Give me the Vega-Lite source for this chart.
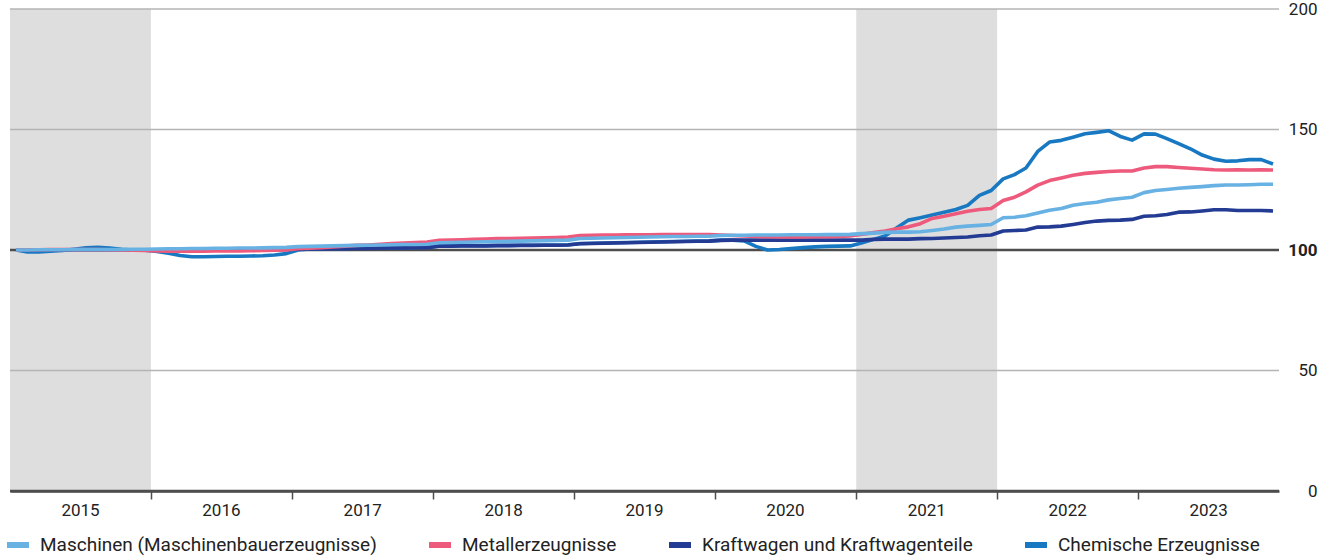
{
"$schema":"https://vega.github.io/schema/vega-lite/v6.json",
"width":1269,"height":482,
"autosize":{"type":"none"},
"padding":{"left":10,"top":9,"right":52,"bottom":69},
"background":"#ffffff",
"config":{"view":{"stroke":null},"font":"Roboto"},
"datasets":{
"bands":[{"start":"2015-01-01","end":"2016-01-01"},{"start":"2021-01-01","end":"2022-01-01"}],
"grid":[{"g":0},{"g":50},{"g":100},{"g":150},{"g":200}],
"series":[
{"d":"2015-01","mas":100.0,"met":100.0,"kfz":100.0,"che":100.0},
{"d":"2015-02","mas":100.0,"met":100.1,"kfz":100.0,"che":99.2},
{"d":"2015-03","mas":100.1,"met":100.1,"kfz":100.0,"che":99.2},
{"d":"2015-04","mas":100.1,"met":100.2,"kfz":100.1,"che":99.5},
{"d":"2015-05","mas":100.1,"met":100.2,"kfz":100.1,"che":99.8},
{"d":"2015-06","mas":100.2,"met":100.2,"kfz":100.1,"che":100.3},
{"d":"2015-07","mas":100.2,"met":100.2,"kfz":100.1,"che":100.9},
{"d":"2015-08","mas":100.2,"met":100.2,"kfz":100.1,"che":101.1},
{"d":"2015-09","mas":100.2,"met":100.1,"kfz":100.1,"che":100.8},
{"d":"2015-10","mas":100.2,"met":100.0,"kfz":100.1,"che":100.3},
{"d":"2015-11","mas":100.3,"met":99.9,"kfz":100.1,"che":100.0},
{"d":"2015-12","mas":100.3,"met":99.8,"kfz":100.1,"che":99.9},
{"d":"2016-01","mas":100.4,"met":99.6,"kfz":100.1,"che":99.4},
{"d":"2016-02","mas":100.5,"met":99.5,"kfz":100.1,"che":98.7},
{"d":"2016-03","mas":100.5,"met":99.5,"kfz":100.1,"che":97.7},
{"d":"2016-04","mas":100.6,"met":99.5,"kfz":100.1,"che":97.2},
{"d":"2016-05","mas":100.6,"met":99.5,"kfz":100.1,"che":97.2},
{"d":"2016-06","mas":100.7,"met":99.6,"kfz":100.1,"che":97.3},
{"d":"2016-07","mas":100.7,"met":99.6,"kfz":100.2,"che":97.4},
{"d":"2016-08","mas":100.8,"met":99.6,"kfz":100.2,"che":97.4},
{"d":"2016-09","mas":100.8,"met":99.7,"kfz":100.2,"che":97.5},
{"d":"2016-10","mas":100.9,"met":99.8,"kfz":100.2,"che":97.6},
{"d":"2016-11","mas":101.0,"met":99.9,"kfz":100.2,"che":97.9},
{"d":"2016-12","mas":101.1,"met":100.0,"kfz":100.2,"che":98.5},
{"d":"2017-01","mas":101.4,"met":100.5,"kfz":100.3,"che":100.0},
{"d":"2017-02","mas":101.5,"met":100.7,"kfz":100.4,"che":100.4},
{"d":"2017-03","mas":101.6,"met":101.0,"kfz":100.4,"che":100.5},
{"d":"2017-04","mas":101.7,"met":101.3,"kfz":100.5,"che":100.6},
{"d":"2017-05","mas":101.8,"met":101.6,"kfz":100.5,"che":100.6},
{"d":"2017-06","mas":101.9,"met":101.9,"kfz":100.6,"che":100.7},
{"d":"2017-07","mas":102.0,"met":102.1,"kfz":100.6,"che":100.7},
{"d":"2017-08","mas":102.1,"met":102.4,"kfz":100.7,"che":100.8},
{"d":"2017-09","mas":102.2,"met":102.7,"kfz":100.8,"che":100.9},
{"d":"2017-10","mas":102.3,"met":102.9,"kfz":100.9,"che":101.0},
{"d":"2017-11","mas":102.3,"met":103.1,"kfz":101.0,"che":101.1},
{"d":"2017-12","mas":102.4,"met":103.3,"kfz":101.0,"che":101.1},
{"d":"2018-01","mas":103.0,"met":104.0,"kfz":101.6,"che":101.7},
{"d":"2018-02","mas":103.1,"met":104.1,"kfz":101.6,"che":101.7},
{"d":"2018-03","mas":103.2,"met":104.2,"kfz":101.7,"che":101.8},
{"d":"2018-04","mas":103.3,"met":104.4,"kfz":101.7,"che":101.8},
{"d":"2018-05","mas":103.4,"met":104.5,"kfz":101.7,"che":101.8},
{"d":"2018-06","mas":103.5,"met":104.7,"kfz":101.8,"che":101.9},
{"d":"2018-07","mas":103.6,"met":104.8,"kfz":101.8,"che":101.9},
{"d":"2018-08","mas":103.7,"met":104.9,"kfz":101.9,"che":102.0},
{"d":"2018-09","mas":103.8,"met":105.0,"kfz":101.9,"che":102.0},
{"d":"2018-10","mas":103.9,"met":105.1,"kfz":102.0,"che":102.1},
{"d":"2018-11","mas":104.0,"met":105.2,"kfz":102.0,"che":102.1},
{"d":"2018-12","mas":104.1,"met":105.4,"kfz":102.1,"che":102.2},
{"d":"2019-01","mas":104.8,"met":106.0,"kfz":102.6,"che":102.7},
{"d":"2019-02","mas":104.9,"met":106.1,"kfz":102.7,"che":102.8},
{"d":"2019-03","mas":105.0,"met":106.2,"kfz":102.8,"che":102.9},
{"d":"2019-04","mas":105.1,"met":106.2,"kfz":102.9,"che":103.0},
{"d":"2019-05","mas":105.2,"met":106.3,"kfz":103.0,"che":103.1},
{"d":"2019-06","mas":105.3,"met":106.3,"kfz":103.1,"che":103.2},
{"d":"2019-07","mas":105.4,"met":106.3,"kfz":103.2,"che":103.3},
{"d":"2019-08","mas":105.5,"met":106.4,"kfz":103.3,"che":103.4},
{"d":"2019-09","mas":105.6,"met":106.4,"kfz":103.4,"che":103.5},
{"d":"2019-10","mas":105.6,"met":106.4,"kfz":103.5,"che":103.6},
{"d":"2019-11","mas":105.7,"met":106.4,"kfz":103.6,"che":103.7},
{"d":"2019-12","mas":105.7,"met":106.4,"kfz":103.7,"che":103.8},
{"d":"2020-01","mas":106.0,"met":106.2,"kfz":104.0,"che":104.1},
{"d":"2020-02","mas":106.1,"met":106.0,"kfz":104.1,"che":104.1},
{"d":"2020-03","mas":106.1,"met":105.8,"kfz":104.1,"che":103.8},
{"d":"2020-04","mas":106.2,"met":105.6,"kfz":104.1,"che":101.5},
{"d":"2020-05","mas":106.2,"met":105.5,"kfz":104.1,"che":100.0},
{"d":"2020-06","mas":106.2,"met":105.4,"kfz":104.1,"che":100.2},
{"d":"2020-07","mas":106.3,"met":105.4,"kfz":104.1,"che":100.6},
{"d":"2020-08","mas":106.3,"met":105.4,"kfz":104.1,"che":101.0},
{"d":"2020-09","mas":106.3,"met":105.5,"kfz":104.1,"che":101.3},
{"d":"2020-10","mas":106.4,"met":105.5,"kfz":104.1,"che":101.5},
{"d":"2020-11","mas":106.4,"met":105.6,"kfz":104.1,"che":101.6},
{"d":"2020-12","mas":106.5,"met":105.8,"kfz":104.1,"che":101.7},
{"d":"2021-01","mas":106.8,"met":106.5,"kfz":104.1,"che":103.0},
{"d":"2021-02","mas":107.0,"met":107.2,"kfz":104.4,"che":104.4},
{"d":"2021-03","mas":107.3,"met":107.9,"kfz":104.5,"che":105.8},
{"d":"2021-04","mas":107.4,"met":108.8,"kfz":104.5,"che":109.2},
{"d":"2021-05","mas":107.4,"met":109.6,"kfz":104.5,"che":112.4},
{"d":"2021-06","mas":107.6,"met":110.9,"kfz":104.7,"che":113.4},
{"d":"2021-07","mas":108.1,"met":113.1,"kfz":104.8,"che":114.5},
{"d":"2021-08","mas":108.7,"met":114.0,"kfz":105.0,"che":115.7},
{"d":"2021-09","mas":109.5,"met":115.0,"kfz":105.2,"che":116.8},
{"d":"2021-10","mas":109.9,"met":116.1,"kfz":105.4,"che":118.5},
{"d":"2021-11","mas":110.2,"met":116.8,"kfz":105.9,"che":122.7},
{"d":"2021-12","mas":110.6,"met":117.2,"kfz":106.2,"che":124.7},
{"d":"2022-01","mas":113.4,"met":120.5,"kfz":107.9,"che":129.5},
{"d":"2022-02","mas":113.6,"met":121.9,"kfz":108.1,"che":131.3},
{"d":"2022-03","mas":114.2,"met":124.1,"kfz":108.3,"che":134.0},
{"d":"2022-04","mas":115.4,"met":126.9,"kfz":109.5,"che":140.9},
{"d":"2022-05","mas":116.5,"met":128.8,"kfz":109.6,"che":144.8},
{"d":"2022-06","mas":117.2,"met":129.9,"kfz":109.9,"che":145.5},
{"d":"2022-07","mas":118.6,"met":131.0,"kfz":110.6,"che":146.8},
{"d":"2022-08","mas":119.3,"met":131.8,"kfz":111.4,"che":148.2},
{"d":"2022-09","mas":119.8,"met":132.2,"kfz":112.0,"che":148.8},
{"d":"2022-10","mas":120.8,"met":132.6,"kfz":112.3,"che":149.5},
{"d":"2022-11","mas":121.4,"met":132.8,"kfz":112.4,"che":147.1},
{"d":"2022-12","mas":121.9,"met":132.8,"kfz":112.7,"che":145.6},
{"d":"2023-01","mas":123.8,"met":134.0,"kfz":114.0,"che":148.2},
{"d":"2023-02","mas":124.7,"met":134.6,"kfz":114.2,"che":148.1},
{"d":"2023-03","mas":125.1,"met":134.6,"kfz":114.7,"che":146.2},
{"d":"2023-04","mas":125.6,"met":134.2,"kfz":115.7,"che":144.1},
{"d":"2023-05","mas":126.0,"met":133.9,"kfz":115.8,"che":142.0},
{"d":"2023-06","mas":126.3,"met":133.6,"kfz":116.2,"che":139.4},
{"d":"2023-07","mas":126.7,"met":133.3,"kfz":116.7,"che":137.7},
{"d":"2023-08","mas":127.0,"met":133.2,"kfz":116.7,"che":136.8},
{"d":"2023-09","mas":127.0,"met":133.3,"kfz":116.4,"che":137.0},
{"d":"2023-10","mas":127.1,"met":133.2,"kfz":116.4,"che":137.5},
{"d":"2023-11","mas":127.3,"met":133.3,"kfz":116.4,"che":137.5},
{"d":"2023-12","mas":127.3,"met":133.2,"kfz":116.2,"che":135.7}
]},
"layer":[
{"data":{"name":"bands"},
 "mark":{"type":"rect","color":"#dedede"},
 "encoding":{
  "x":{"field":"start","type":"temporal","scale":{"type":"utc","domain":[{"year":2015,"month":1,"date":1,"utc":true},{"year":2024,"month":1,"date":1,"utc":true}]},
   "axis":{"title":null,"grid":false,
    "values":[{"year":2015,"month":1,"date":1,"utc":true},{"year":2016,"month":1,"date":1,"utc":true},{"year":2017,"month":1,"date":1,"utc":true},{"year":2018,"month":1,"date":1,"utc":true},{"year":2019,"month":1,"date":1,"utc":true},{"year":2020,"month":1,"date":1,"utc":true},{"year":2021,"month":1,"date":1,"utc":true},{"year":2022,"month":1,"date":1,"utc":true},{"year":2023,"month":1,"date":1,"utc":true}],
    "labelExpr":"utcFormat(datum.value,'%Y')",
    "labelOffset":70,"labelPadding":3,"labelFlush":false,"labelOverlap":false,
    "labelFont":"Roboto","labelFontSize":17,"labelColor":"#222222",
    "tickSize":8,"tickWidth":1.5,"tickColor":"#4d4d4d",
    "tickOpacity":{"condition":{"test":"utcyear(datum.value)==2015","value":0},"value":1},
    "domainColor":"#4d4d4d","domainWidth":2.5}},
  "x2":{"field":"end"}}},
{"data":{"name":"grid"},
 "mark":{"type":"rule"},
 "encoding":{
  "y":{"field":"g","type":"quantitative","scale":{"domain":[0,200]},
   "axis":{"title":null,"orient":"right","grid":false,"domain":false,"ticks":false,"tickSize":0,
    "values":[0,50,100,150,200],"labelAlign":"right","labelPadding":38,
    "labelFont":"Roboto","labelFontSize":17,"labelColor":"#222222",
    "labelFontWeight":{"condition":{"test":"datum.value==100","value":"bold"},"value":"normal"}}},
  "color":{"condition":{"test":"datum.g==100 || datum.g==0","value":"#4d4d4d"},"value":"#b4b4b4"},
  "strokeWidth":{"condition":{"test":"datum.g==100 || datum.g==0","value":2.5},"value":1.3}}},
{"data":{"name":"series"},
 "transform":[{"fold":["che","kfz","met","mas"],"as":["series","value"]}],
 "mark":{"type":"line","strokeWidth":3.6,"strokeJoin":"round"},
 "encoding":{
  "x":{"field":"d","type":"temporal","timeUnit":"utcyearmonth","bandPosition":0.5},
  "y":{"field":"value","type":"quantitative"},
  "color":{"field":"series","type":"nominal",
   "scale":{"domain":["mas","met","kfz","che"],"range":["#68b1e3","#ee5a7c","#233b93","#1879c2"]},
   "legend":{"title":null,"orient":"none","legendX":-6,"legendY":522,"direction":"horizontal","padding":0,
    "symbolType":"stroke","symbolSize":484,"symbolStrokeWidth":6,"labelOffset":8,"columnPadding":40,
    "labelFont":"Roboto","labelFontSize":19,"labelColor":"#222222","labelLimit":500,
    "labelExpr":"datum.value=='mas' ? 'Maschinen (Maschinenbauerzeugnisse)' : datum.value=='met' ? 'Metallerzeugnisse' : datum.value=='kfz' ? 'Kraftwagen und Kraftwagenteile' : 'Chemische Erzeugnisse'"}}}}
]
}
